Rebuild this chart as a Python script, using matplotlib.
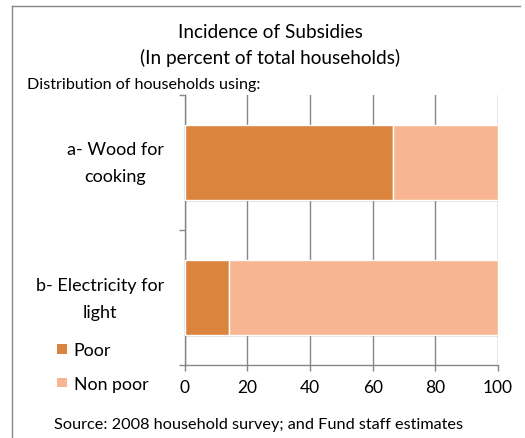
import matplotlib
matplotlib.use("Agg")
import matplotlib.pyplot as plt
import matplotlib.patheffects as pe
from matplotlib.lines import Line2D
from matplotlib.patches import Patch

plt.rcParams['font.family'] = ['Lato', 'DejaVu Sans']

categories = ["a- Wood for\ncooking", "b- Electricity for\nlight"]
poor = [66.6, 14.1]
non_poor = [33.4, 85.9]
series_names = ["Poor", "Non poor"]
colors = ["#DB843D", "#F8B591"]
xticks = [0, 20, 40, 60, 80, 100]

W, H = 525, 439


def px(x, y):
    return x / W, 1 - y / H


fig = plt.figure(figsize=(W / 100, H / 100), dpi=100)
ax = fig.add_axes([184.7 / W, 1 - 366 / H, (498 - 184.7) / W, (366 - 96) / H])

ypos = list(range(len(categories)))
shadow = [pe.SimplePatchShadow(offset=(0, -2), alpha=0.15), pe.Normal()]
b1 = ax.barh(ypos, poor, height=0.55, color=colors[0], edgecolor="white", linewidth=1)
b2 = ax.barh(ypos, non_poor, left=poor, height=0.55, color=colors[1], edgecolor="white", linewidth=1)
for bars in (b1, b2):
    for b in bars:
        b.set_path_effects(shadow)
        b.set_zorder(3)

ax.set_xlim(0, 100)
ax.set_ylim(-0.5, 1.5)
ax.invert_yaxis()
ax.set_xticks(xticks)
ax.set_xticklabels([str(t) for t in xticks], fontsize=12.5)
ax.set_yticks([-0.5, 0.5, 1.5])
ax.set_yticklabels([])
ax.tick_params(axis="both", direction="out", length=4, color="#868686", width=1)
ax.tick_params(axis="x", pad=6)
ax.grid(axis="x", color="#868686", linewidth=1, zorder=0)
ax.set_axisbelow(True)
for s in ["top", "right"]:
    ax.spines[s].set_visible(False)
for s in ["left", "bottom"]:
    ax.spines[s].set_color("#868686")
    ax.spines[s].set_linewidth(1)

# category labels
label_y = [163.5, 299.5]
for lab, yy in zip(categories, label_y):
    fig.text(*px(164, yy), lab, ha="right", va="center", multialignment="center",
             fontsize=13, linespacing=1.8)

fig.text(*px(270, 32), "Incidence of Subsidies", ha="center", va="center", fontsize=13.7)
fig.text(*px(270, 58), "(In percent of total households)", ha="center", va="center", fontsize=13.7)
fig.text(*px(27, 85), "Distribution of households using:", ha="left", va="center", fontsize=11.6)
fig.text(*px(54, 425), "Source: 2008 household survey; and Fund staff estimates",
         ha="left", va="center", fontsize=11.7)

handles = [Patch(facecolor=c, edgecolor="none") for c in colors]
fig.legend(handles, series_names, loc="center left", bbox_to_anchor=px(48, 368),
           frameon=False, fontsize=12.8, handlelength=0.55, handleheight=0.45,
           handletextpad=0.4, labelspacing=1.0, borderpad=0)

# outer border (top and left edges)
fig.add_artist(Line2D([12 / W, 520 / W], [1 - 7 / H, 1 - 7 / H], color="#868686", lw=1))
fig.add_artist(Line2D([12 / W, 12 / W], [1 - 7 / H, 0], color="#868686", lw=1))

fig.savefig("out.png", dpi=100)
